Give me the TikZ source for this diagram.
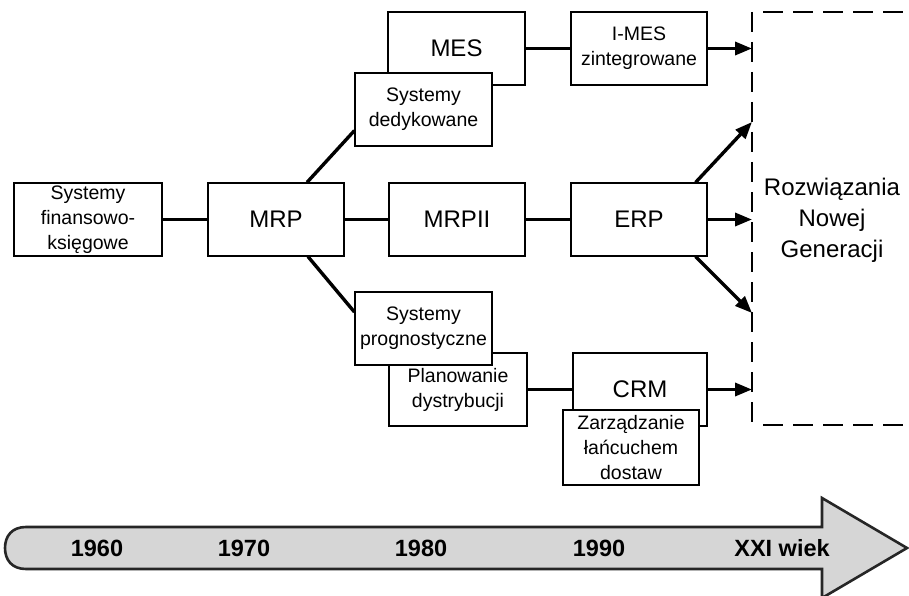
\documentclass[tikz,border=0pt]{standalone}
\usepackage{fontspec}
\setmainfont{Liberation Sans}
\usetikzlibrary{calc,arrows.meta}
\begin{document}
\begin{tikzpicture}[x=1pt,y=-1pt,
  box/.style={draw=black,line width=1.2pt,fill=white,inner sep=0pt,align=center,
    minimum width=137pt,minimum height=73pt,font=\fontsize{19.5}{25}\selectfont},
  bigbox/.style={box,font=\fontsize{24}{30}\selectfont},
  conn/.style={line width=3.4pt},
  arr/.style={line width=3.4pt,-{Triangle[length=17pt,width=13pt]}},
  dashline/.style={line width=2.8pt,dash pattern=on 20pt off 10pt},
  year/.style={font=\fontsize{23.5}{26}\selectfont\bfseries,inner sep=0pt}]
\useasboundingbox (0,0) rectangle (909,596);
% nodes
\node[box,minimum width=148pt] (fin) at (88,219.5) {Systemy\\finansowo-\\księgowe};
\node[bigbox,minimum width=136pt] (mrp) at (276,219.5) {MRP};
\node[bigbox,minimum width=136pt] (mrp2) at (457,219.5) {MRPII};
\node[bigbox,minimum width=136pt] (erp) at (639,219.5) {ERP};
\node[bigbox] (mes) at (456.5,48.5) {MES};
\node[box] (ded) at (423.5,109.5) {Systemy\\dedykowane};
\node[box,minimum width=136pt] (imes) at (639,48.5) {I-MES\\zintegrowane};
\node[box,minimum width=138pt] (plan) at (458,389.5) {Planowanie\\dystrybucji};
\node[box] (prog) at (423.5,328.5) {Systemy\\prognostyczne};
\node[bigbox,minimum width=134pt] (crm) at (640,389.5) {CRM};
\node[box,minimum width=136pt,minimum height=75pt] (zar) at (631,447.5) {Zarządzanie\\łańcuchem\\dostaw};
% new generation region
\coordinate (ngtl) at (752,12);
\coordinate (ngbl) at (752,425);
\coordinate (ngtr) at (909,12);
\coordinate (ngbr) at (909,425);
\draw[dashline] (ngtl) -- (ngbl);
\draw[dashline] ($(ngtl)+(11,0)$) -- (ngtr);
\draw[dashline] ($(ngbl)+(11,0)$) -- (ngbr);
\node[align=center,inner sep=0pt,font=\fontsize{24}{31}\selectfont] (ng) at (832,220) {Rozwiązania\\Nowej\\Generacji};
\coordinate (e1) at (752,48.5);
\coordinate (e2) at (752,122);
\coordinate (e3) at (752,219.5);
\coordinate (e4) at (752,313);
\coordinate (e5) at (752,389.5);
% connectors
\draw[conn] (fin.east) -- (mrp.west);
\draw[conn] (mrp.east) -- (mrp2.west);
\draw[conn] (mrp2.east) -- (erp.west);
\draw[conn] (mes.east) -- (imes.west);
\draw[conn] (plan.east) -- (crm.west);
\draw[conn] ($(mrp.north)+(31,0)$) -- ($(ded.south west)+(0,-16)$);
\draw[conn] ($(mrp.south)+(32,0)$) -- ($(prog.west)+(0,-16.5)$);
\draw[arr] (imes.east) -- (e1);
\draw[arr] ($(erp.north east)+(-12,0)$) -- (e2);
\draw[arr] (erp.east) -- (e3);
\draw[arr] ($(erp.south east)+(-12,0)$) -- (e4);
\draw[arr] (crm.east) -- (e5);
% timeline
\draw[line width=2.6pt,draw=black!85,fill=black!16]
  (26,527) -- (822,527) -- (822,498) -- (907,548) -- (822,598) -- (822,569) -- (26,569)
  .. controls (12,569) and (5,560) .. (5,548)
  .. controls (5,536) and (12,527) .. (26,527) -- cycle;
\node[year] (y60) at (97,548) {1960};
\node[year] (y70) at (244,548) {1970};
\node[year] (y80) at (421,548) {1980};
\node[year] (y90) at (599,548) {1990};
\node[year] (y21) at (782,548) {XXI wiek};
\end{tikzpicture}
\end{document}
